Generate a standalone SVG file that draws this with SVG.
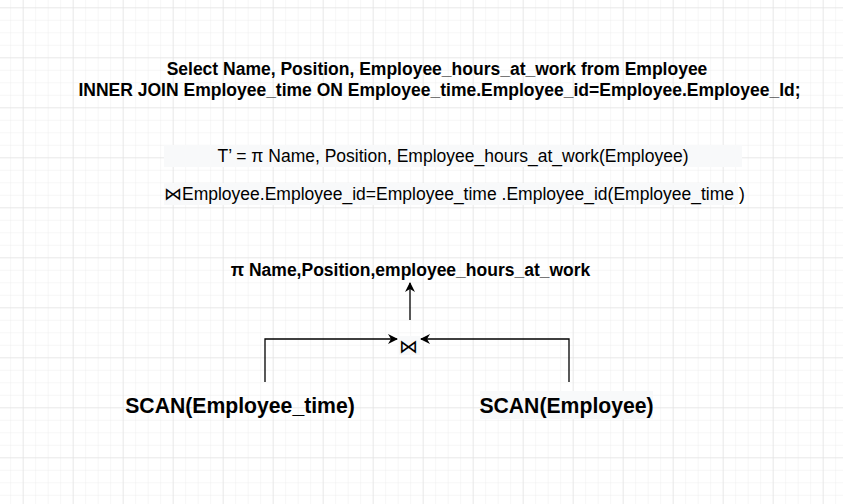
<svg xmlns="http://www.w3.org/2000/svg" width="843" height="504" viewBox="0 0 843 504">
<defs>
<pattern id="minor" x="10.2" y="7.3" width="12.5" height="12.5" patternUnits="userSpaceOnUse">
<path d="M0 0H12.5M0 0V12.5" fill="none" stroke="#ededed" stroke-width="1"/>
</pattern>
<pattern id="major" x="22.7" y="7.3" width="50" height="50" patternUnits="userSpaceOnUse">
<path d="M0 0H50M0 0V50" fill="none" stroke="#dedede" stroke-width="1"/>
</pattern>
<marker id="arr" viewBox="0 0 10 10" refX="9" refY="5" markerWidth="10" markerHeight="10" markerUnits="userSpaceOnUse" orient="auto">
<path d="M0 0L10 5L0 10L3 5Z" fill="#000"/>
</marker>
<style>
.b{font-family:"Liberation Sans",Arial,sans-serif;font-weight:bold;fill:#000}
.r{font-family:"Liberation Sans",Arial,sans-serif;fill:#000}
.c{fill:none;stroke:#000;stroke-width:1.3}
</style>
</defs>
<rect width="843" height="504" fill="#fff"/>
<rect width="843" height="504" fill="url(#minor)"/>
<rect width="843" height="504" fill="url(#major)"/>
<g id="sql">
<text class="b" font-size="17.5" x="437" y="75" text-anchor="middle">Select Name, Position, Employee_hours_at_work from Employee</text>
<text class="b" font-size="17.5" x="439.5" y="96" text-anchor="middle">INNER JOIN Employee_time ON Employee_time.Employee_id=Employee.Employee_Id;</text>
</g>
<g id="algebra">
<rect x="164" y="145" width="578" height="22" fill="#f8f9fa"/>
<text class="r" font-size="17.5" x="453" y="162" text-anchor="middle">T’ = π Name, Position, Employee_hours_at_work(Employee)</text>
<rect x="164" y="183" width="574" height="22" fill="#f8f9fa"/>
<text class="r" font-size="17.5" x="164" y="200">⋈Employee.Employee_id=Employee_time .Employee_id(Employee_time )</text>
</g>
<g id="projection">
<text class="b" font-size="17.5" x="410.5" y="276" text-anchor="middle">π Name,Position,employee_hours_at_work</text>
</g>
<g id="join">
<rect x="398" y="336" width="22" height="19" fill="#f8f9fa"/>
<text class="r" font-size="19" x="408.5" y="353" text-anchor="middle">⋈</text>
</g>
<g id="scan-employee-time">
<text class="b" font-size="21.2" x="240" y="413" text-anchor="middle">SCAN(Employee_time)</text>
</g>
<g id="scan-employee">
<rect x="480" y="391" width="173" height="28" fill="#f8f9fa"/>
<text class="b" font-size="21.2" x="566.5" y="413" text-anchor="middle">SCAN(Employee)</text>
</g>
<g id="connectors">
<path class="c" d="M410 320V283" marker-end="url(#arr)"/>
<path class="c" d="M265 382V339H397" marker-end="url(#arr)"/>
<path class="c" d="M569 382V339H421" marker-end="url(#arr)"/>
</g>
</svg>
